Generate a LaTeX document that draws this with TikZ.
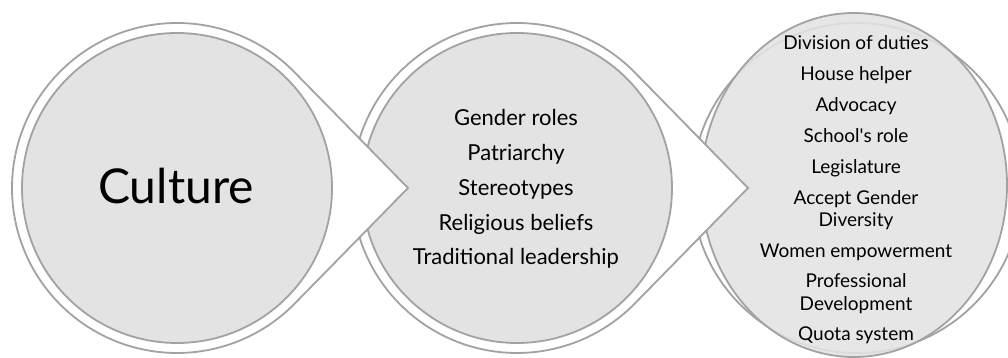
\documentclass[tikz,border=0pt]{standalone}
\usepackage{fontspec}
\setmainfont{Lato}
\begin{document}
\begin{tikzpicture}[x=1pt,y=1pt,
  ringline/.style={draw=ringgray,line width=1.8pt},
  teardrop/.style={ringline,fill=white},
  disc/.style={ringline,fill=discgray},
  bigword/.style={font=\fontsize{48}{52}\selectfont,anchor=base,inner sep=0pt},
  midword/.style={font=\fontsize{22}{26}\selectfont,anchor=base,inner sep=0pt},
  smallword/.style={font=\fontsize{19}{22}\selectfont,anchor=base,inner sep=0pt}]
\definecolor{ringgray}{HTML}{A2A2A2}
\definecolor{discgray}{HTML}{E3E3E3}
\useasboundingbox (0,0) rectangle (1008,358);

% centres of the three rings and the tips of the pointers
\coordinate (c1) at (177,170);
\coordinate (c2) at (517,170);
\coordinate (c3) at (857,170);
\coordinate (tip1) at (408,170);
\coordinate (tip2) at (748,170);
\coordinate (e3) at (854,173);

% third stage: ring and the slightly taller disc
\draw[ringline,fill=white] (c3) circle[radius=165];
\draw[disc,fill opacity=0.88] (e3) ellipse[x radius=153,y radius=172];

% second stage: ring with pointer, then disc
\draw[teardrop] (c2) ++(44.42:165) arc[start angle=44.42,end angle=315.58,radius=165] -- (tip2) -- cycle;
\draw[disc] (c2) circle[radius=155];

% first stage: ring with pointer, then disc
\draw[teardrop] (c1) ++(44.42:165) arc[start angle=44.42,end angle=315.58,radius=165] -- (tip1) -- cycle;
\draw[disc] (c1) circle[radius=155];

% labels
\node[bigword] (culture) at (176,154) {Culture};

\node[midword] (m1) at (516,232) {Gender roles};
\node[midword] (m2) at (516,197.25) {Patriarchy};
\node[midword] (m3) at (516,162.5) {Stereotypes};
\node[midword] (m4) at (516,127.75) {Religious beliefs};
\node[midword] (m5) at (516,93) {Traditional leadership};

\node[smallword] (s1) at (856,308) {Division of duties};
\node[smallword] (s2) at (856,277) {House helper};
\node[smallword] (s3) at (856,246) {Advocacy};
\node[smallword] (s4) at (856,215) {School\textquotesingle s role};
\node[smallword] (s5) at (856,184) {Legislature};
\node[smallword] (s6) at (856,153.5) {Accept Gender};
\node[smallword] (s7) at (856,131.5) {Diversity};
\node[smallword] (s8) at (856,100.5) {Women empowerment};
\node[smallword] (s9) at (856,70) {Professional};
\node[smallword] (s10) at (856,47) {Development};
\node[smallword] (s11) at (856,17) {Quota system};
\end{tikzpicture}
\end{document}
